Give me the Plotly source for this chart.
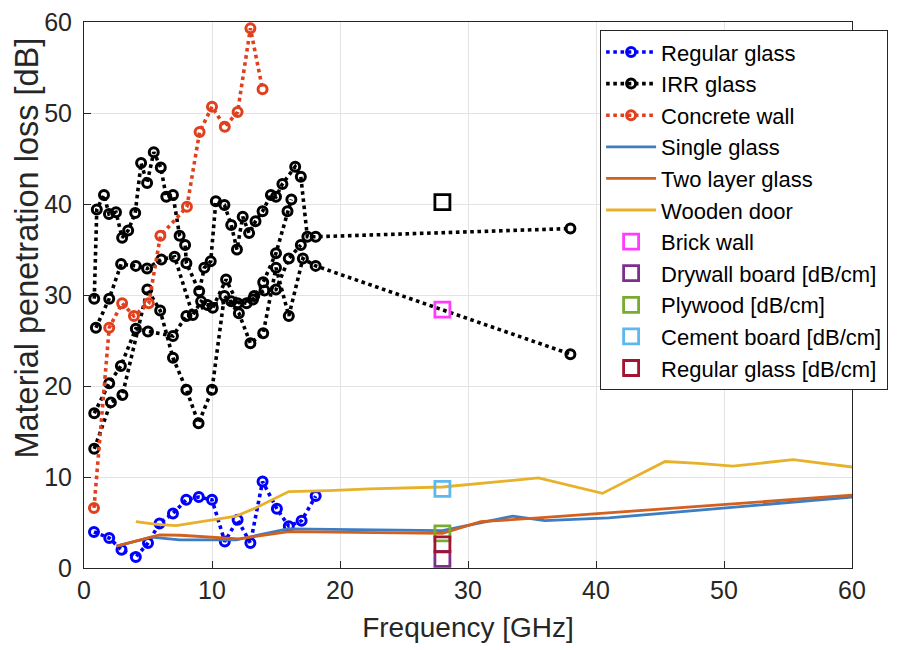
import plotly.graph_objects as go

# ---------------- data ----------------
reg_glass_f = [0.78, 1.97, 2.93, 4.05, 5.0, 5.9, 6.95, 7.99, 8.97, 10.0, 11.0, 12.0, 13.0, 13.95, 15.07, 16.0, 17.0, 18.1]
reg_glass_db = [3.96, 3.3, 2.0, 1.2, 2.75, 4.9, 6.0, 7.5, 7.8, 7.5, 2.9, 5.3, 2.75, 9.5, 6.5, 4.6, 5.2, 7.9]

irr1_f = [0.8, 1.0, 1.56, 1.95, 2.5, 2.98, 3.45, 4.0, 4.46, 4.93, 5.45, 6.0, 6.43, 6.95, 7.47, 7.9, 8.0, 9.0, 9.4, 9.9,
          10.3, 10.97, 11.5, 11.95, 12.4, 12.9, 13.4, 13.95, 14.6, 15.0, 15.5, 16.5, 16.94, 17.45, 18.1, 38.0]
irr1_db = [29.6, 39.4, 41.0, 38.9, 39.1, 36.3, 37.1, 39.0, 44.5, 42.3, 45.7, 44.0, 40.8, 41.0, 36.5, 35.5, 33.5, 30.4, 33.0, 33.7,
           40.3, 39.9, 37.7, 35.0, 38.6, 36.8, 38.1, 39.2, 41.0, 40.8, 42.2, 44.1, 43.0, 36.4, 36.4, 37.3]
irr2_f = [0.93, 1.97, 2.9, 4.05, 4.93, 6.04, 7.08, 8.5, 9.15, 10.06, 11.1, 12.0, 13.2, 14.0, 15.0, 15.9, 16.2]
irr2_db = [26.4, 29.6, 33.4, 33.2, 32.9, 33.9, 34.2, 27.8, 29.3, 28.6, 31.7, 29.1, 29.5, 31.4, 34.6, 39.2, 40.5]
irr3_f = [0.8, 1.97, 2.88, 4.05, 5.0, 6.95, 8.0, 9.65, 11.5, 12.7, 13.3, 14.1, 15.0, 16.0, 16.94]
irr3_db = [17.0, 20.3, 22.2, 26.3, 26.0, 25.5, 27.7, 28.9, 29.3, 29.1, 29.9, 30.5, 30.6, 34.0, 35.5]
irr4_f = [0.8, 2.1, 3.0, 4.95, 5.95, 6.95, 8.0, 8.95, 10.0, 10.97, 12.1, 13.0, 14.0, 15.0, 16.0, 17.1, 18.1, 38.0]
irr4_db = [13.1, 18.2, 19.0, 30.6, 28.3, 23.1, 19.6, 15.9, 19.6, 29.9, 28.0, 24.7, 25.8, 33.0, 27.7, 34.0, 33.2, 23.5]

concrete_f = [0.78, 1.97, 2.98, 3.9, 5.06, 5.97, 8.04, 9.03, 10.0, 11.0, 12.0, 13.0, 13.95]
concrete_db = [6.6, 26.4, 29.1, 27.7, 29.1, 36.5, 39.7, 47.9, 50.7, 48.5, 50.1, 59.3, 52.6]

single_f = [2.54, 5.27, 7.47, 10.0, 11.9, 15.9, 23.0, 28.0, 33.5, 36.0, 41.0, 60.0]
single_db = [2.4, 3.4, 3.1, 3.1, 3.1, 4.3, 4.2, 4.1, 5.7, 5.2, 5.5, 7.8]

twolayer_f = [2.54, 5.9, 7.5, 12.1, 16.0, 23.0, 28.0, 31.0, 35.5, 60.0]
twolayer_db = [2.4, 3.65, 3.6, 3.2, 4.0, 3.9, 3.8, 5.1, 5.5, 8.0]

wooden_f = [4.05, 5.66, 7.2, 11.9, 13.4, 16.0, 19.1, 22.3, 28.0, 35.5, 40.5, 45.4, 48.0, 50.7, 55.4, 60.0]
wooden_db = [5.1, 4.8, 4.65, 5.7, 6.6, 8.4, 8.5, 8.7, 8.9, 9.9, 8.2, 11.7, 11.5, 11.2, 11.9, 11.1]

f28 = [28.0]
irr_28_db = [40.2]
brick_db = [28.4]
drywall_db = [1.0]
plywood_db = [3.8]
cement_db = [8.7]
regglass_cm_db = [2.6]

x_ticks = [0, 10, 20, 30, 40, 50, 60]
y_ticks = [0, 10, 20, 30, 40, 50, 60]

# ---------------- figure ----------------
fig = go.Figure()
mk_small = dict(symbol="circle-open", size=9, line=dict(width=3))

def dotted(x, y, color, name, show=True, group=None):
    fig.add_trace(go.Scatter(
        x=x, y=y, mode="lines+markers", name=name, showlegend=show,
        legendgroup=group or name,
        line=dict(color=color, width=3.6, dash="dot"),
        marker=dict(color=color, **mk_small)))

dotted(reg_glass_f, reg_glass_db, "#0000FF", "Regular glass")
dotted(irr1_f, irr1_db, "#000000", "IRR glass", True, "irr")
dotted(irr2_f, irr2_db, "#000000", "IRR glass", False, "irr")
dotted(irr3_f, irr3_db, "#000000", "IRR glass", False, "irr")
dotted(irr4_f, irr4_db, "#000000", "IRR glass", False, "irr")
dotted(concrete_f, concrete_db, "#E0401E", "Concrete wall")

def solid(x, y, color, name):
    fig.add_trace(go.Scatter(x=x, y=y, mode="lines", name=name, legendgroup=name,
                             line=dict(color=color, width=2.8)))

solid(single_f, single_db, "#3C7DC4", "Single glass")
solid(twolayer_f, twolayer_db, "#D2601F", "Two layer glass")
solid(wooden_f, wooden_db, "#E7B12A", "Wooden door")

def square(y, color, name, show=True):
    fig.add_trace(go.Scatter(x=f28, y=y, mode="markers", name=name, showlegend=show,
                             legendgroup=name,
                             marker=dict(symbol="square-open", size=15, color=color,
                                         line=dict(width=2.8, color=color))))

square(irr_28_db, "#000000", "IRR 28", False)
square(brick_db, "#FF3CFF", "Brick wall")
square(drywall_db, "#7E2F8E", "Drywall board [dB/cm]")
square(plywood_db, "#77AC30", "Plywood [dB/cm]")
square(cement_db, "#5DB8EE", "Cement board [dB/cm]")
square(regglass_cm_db, "#A2142F", "Regular glass [dB/cm]")

axis_common = dict(
    showgrid=True, gridcolor="#E3E3E3", gridwidth=1,
    showline=True, linecolor="#262626", linewidth=1, mirror=True,
    ticks="inside", ticklen=7, tickcolor="#262626",
    tickfont=dict(size=25, color="#262626"), zeroline=False,
    ticklabeloverflow="allow", automargin=False,
)

fig.update_layout(
    width=906, height=650,
    margin=dict(l=76, r=62, t=14, b=90),
    paper_bgcolor="white", plot_bgcolor="white",
    font=dict(family="Liberation Sans, Arial, sans-serif", color="#262626"),
    xaxis=dict(range=[0, 60], tickvals=x_ticks,
               title=dict(text="Frequency [GHz]", font=dict(size=28), standoff=14),
               **axis_common),
    yaxis=dict(range=[0, 60], tickvals=y_ticks, ticklabelstandoff=6, **axis_common),
    legend=dict(x=0.672, y=0.985, xanchor="left", yanchor="top",
                bgcolor="white", bordercolor="#262626", borderwidth=1,
                font=dict(size=22, color="#000000"), itemwidth=50,
                tracegroupgap=0),
    showlegend=True,
    annotations=[dict(text="Material penetration loss [dB]", textangle=-90,
                      xref="paper", yref="paper", x=0, y=0.585,
                      xanchor="center", yanchor="middle", xshift=-57,
                      showarrow=False, font=dict(size=32.5, color="#262626"))],
)

fig.write_html("out.html")
